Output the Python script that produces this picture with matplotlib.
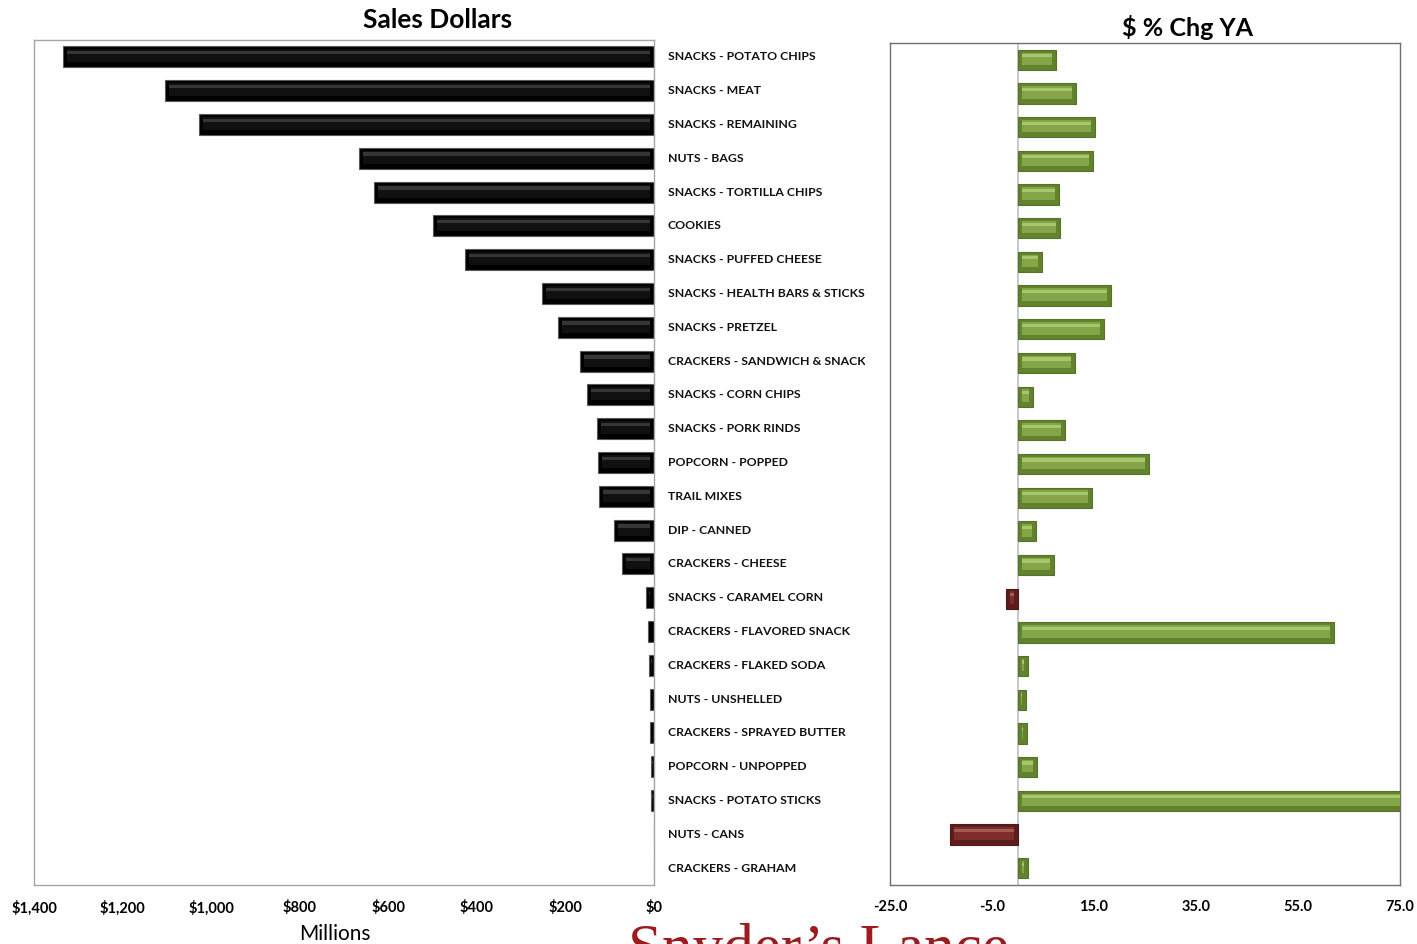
import matplotlib
matplotlib.use("Agg")
import matplotlib.pyplot as plt  # noqa: E402
from matplotlib.transforms import Bbox, TransformedBbox, blended_transform_factory  # noqa: E402

plt.rcParams["font.family"] = ["Lato", "DejaVu Sans"]

categories = [
    "SNACKS - POTATO CHIPS", "SNACKS - MEAT", "SNACKS - REMAINING", "NUTS - BAGS",
    "SNACKS - TORTILLA CHIPS", "COOKIES", "SNACKS - PUFFED CHEESE",
    "SNACKS - HEALTH BARS & STICKS", "SNACKS - PRETZEL", "CRACKERS - SANDWICH & SNACK",
    "SNACKS - CORN CHIPS", "SNACKS - PORK RINDS", "POPCORN - POPPED", "TRAIL MIXES",
    "DIP - CANNED", "CRACKERS - CHEESE", "SNACKS - CARAMEL CORN",
    "CRACKERS - FLAVORED SNACK", "CRACKERS - FLAKED SODA", "NUTS - UNSHELLED",
    "CRACKERS - SPRAYED BUTTER", "POPCORN - UNPOPPED", "SNACKS - POTATO STICKS",
    "NUTS - CANS", "CRACKERS - GRAHAM",
]
# sales dollars, millions
sales = [1334, 1104, 1027, 666, 632, 499, 427, 253, 217, 167, 151, 129, 126, 124,
         90, 72, 19, 14, 12, 9, 9, 7, 7, 0.5, 0.3]
# dollar % change vs year ago
pct_chg = [7.5, 11.5, 15.2, 14.8, 8.1, 8.3, 4.8, 18.3, 17.0, 11.3, 3.0, 9.3, 25.8,
           14.6, 3.6, 7.2, -2.3, 62.1, 2.1, 1.7, 1.9, 3.8, 80.0, -13.2, 2.1]
sales_ticks = [1400, 1200, 1000, 800, 600, 400, 200, 0]
pct_ticks = [-25, -5, 15, 35, 55, 75]

W, H = 1417, 944
fig = plt.figure(figsize=(W / 100, H / 100), dpi=100)


def fig_rect(x0, y0, x1, y1):
    # pixel box (top-left origin) -> figure fraction rect
    return [x0 / W, 1 - y1 / H, (x1 - x0) / W, (y1 - y0) / H]


ax1 = fig.add_axes(fig_rect(34, 40, 654, 885))
ax2 = fig.add_axes(fig_rect(890, 43, 1400, 885))


def bevel_barh(ax, y, w, h, units_per_px, base, light, dark, edge):
    ax.barh(y, w, height=h, color=dark, edgecolor=edge, linewidth=0.8, zorder=2)
    inset = min(4 * units_per_px, abs(w) / 2 * 0.9)
    sgn = 1 if w >= 0 else -1
    inner = w - sgn * 2 * inset
    ax.barh(y - h * 0.05, inner, left=sgn * inset, height=h * 0.62,
            color=base, linewidth=0, zorder=3)
    ax.barh(y - h * 0.2, inner, left=sgn * inset, height=h * 0.16,
            color=light, linewidth=0, zorder=4)


ypos = list(range(len(categories)))

# left panel: sales dollars
upp1 = 1400 / 620
for y, v in zip(ypos, sales):
    bevel_barh(ax1, y, v, 0.62, upp1, "#101010", "#363636", "#000000", "#5a5a5a")
ax1.set_xlim(1400, 0)
ax1.set_ylim(len(categories) - 0.5, -0.5)
ax1.set_xticks(sales_ticks)
ax1.set_xticklabels([f"${t:,}" for t in sales_ticks], fontweight="bold", fontsize=10.5)
ax1.set_yticks([])
ax1.tick_params(axis="x", length=0, pad=11)
for s in ax1.spines.values():
    s.set_color("#a6a6a6")
    s.set_linewidth(1)

# right panel: % change
upp2 = 100 / 510
for y, v in zip(ypos, pct_chg):
    if v >= 0:
        bevel_barh(ax2, y, v, 0.6, upp2, "#84a648", "#a8c76c", "#63822e", "#55712a")
    else:
        bevel_barh(ax2, y, v, 0.6, upp2, "#7e2c2c", "#a65a55", "#5c1d1d", "#4e1818")
ax2.axvline(0, color="#bfbfbf", lw=1.2, zorder=1)
ax2.set_xlim(-25, 75)
ax2.set_ylim(len(categories) - 0.5, -0.5)
ax2.set_xticks(pct_ticks)
ax2.set_xticklabels([f"{t:.1f}" for t in pct_ticks], fontweight="bold", fontsize=10.5)
ax2.set_yticks([])
ax2.tick_params(axis="x", length=0, pad=11)
for s in ax2.spines.values():
    s.set_color("#707070")
    s.set_linewidth(1)

# category names between the panels, cut off at the right edge
clip = TransformedBbox(Bbox.from_extents(660 / W, 0, 865 / W, 1), fig.transFigure)
label_tf = blended_transform_factory(fig.transFigure, ax1.transData)
for y, name in zip(ypos, categories):
    t = ax1.text(668 / W, y, name, transform=label_tf, ha="left", va="center",
                 fontsize=8.8, fontweight="bold", color="#111111")
    t.set_clip_box(clip)
    t.set_clip_on(True)

fig.text(438 / W, 1 - 20 / H, "Sales Dollars", ha="center", va="center",
         fontsize=19, fontweight="bold")
fig.text(1188 / W, 1 - 28 / H, "$ % Chg YA", ha="center", va="center",
         fontsize=18, fontweight="bold")
fig.text(335 / W, 1 - 934 / H, "Millions", ha="center", va="center", fontsize=15)
fig.text(628 / W, 1 - 966 / H, "Snyder\u2019s Lance", ha="left", va="baseline",
         fontsize=44, color="#9b1b1f", family="Liberation Serif")

fig.savefig("out.png", dpi=100)
